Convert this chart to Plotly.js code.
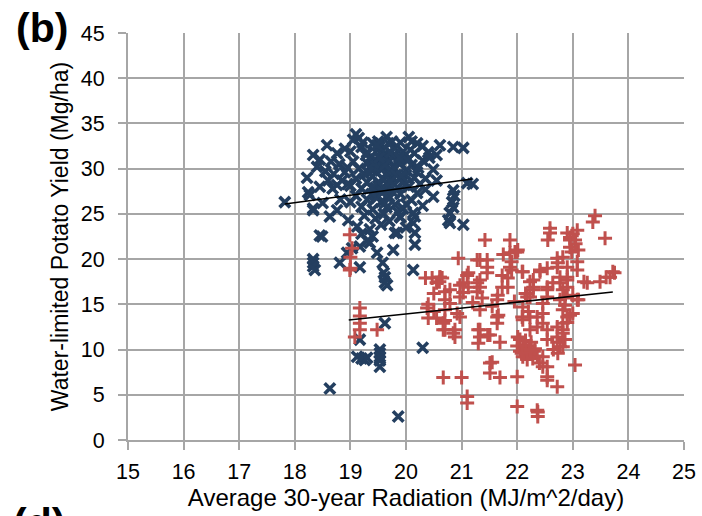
<!DOCTYPE html>
<html>
<head>
<meta charset="utf-8">
<script src="https://cdn.plot.ly/plotly-3.0.1.min.js"></script>
<style>html,body{margin:0;padding:0;background:#fff;}#chart{width:702px;height:516px;}</style>
</head>
<body>
<div id="chart"></div>
<script>
// Blue series (x marks): radiation (MJ/m^2/day) and yield (Mg/ha)
const blueX = [
19.1,19.15,19.05,19.65,19.75,19.9,20.05,20.1,20.2,19.4,19.5,20.3,
18.58,18.76,18.33,18.9,19.0,19.2,19.3,19.5,19.6,19.8,19.95,20.15,20.4,20.61,20.55,20.85,21.03,18.45,18.65,
18.22,18.4,18.55,18.8,18.9,19.05,19.15,19.3,19.4,19.45,19.55,19.65,19.7,19.8,19.9,20.0,20.1,20.2,20.3,20.49,19.35,19.6,19.75,20.05,
18.24,18.45,18.76,18.6,18.95,19.1,19.2,19.3,19.4,19.5,19.55,19.6,19.7,19.75,19.85,19.95,20.05,20.15,20.25,20.35,20.55,21.1,21.2,20.0,19.45,
17.82,18.33,18.27,18.5,18.76,19.0,19.1,19.2,19.3,19.4,19.45,19.55,19.65,19.7,19.8,19.9,19.95,20.1,20.2,20.3,20.49,20.83,20.85,20.87,20.85,18.33,
18.63,18.96,19.12,19.25,19.35,19.45,19.55,19.6,19.7,19.84,19.9,20.0,20.16,20.16,20.76,20.79,21.03,19.2,19.4,19.89,20.13,20.13,20.79,20.79,19.8,19.77,
18.49,18.45,18.33,18.33,18.33,18.36,18.81,18.94,19.17,19.35,19.48,19.58,19.17,19.62,19.66,19.62,20.16,20.13,19.6,19.03,19.3,
19.62,19.17,19.12,19.26,19.2,19.3,19.53,19.53,19.53,19.53,19.53,18.63,19.86,20.3,
19.25,19.35,19.55,19.65,19.85,19.5,19.7,19.6,19.45,19.8,19.9,19.55,19.65,19.75,19.38,19.48,19.58,19.68,19.52,19.72,
19.42,19.62,19.82,20.02,19.32,19.52,19.72,19.92,19.28,19.48,19.68,19.88,20.08,19.38,19.58,19.78,19.98,18.7,18.85,18.95,18.68,18.82,19.0,19.22,20.22,20.35,20.42,20.0,19.85,19.62
];
const blueY = [
33.8,33.4,33.2,33.5,33.0,32.9,33.5,33.0,32.8,32.8,33.0,32.5,
32.6,31.7,31.5,32.2,31.9,32.4,31.8,32.1,31.6,32.3,31.9,31.7,31.8,32.6,31.5,32.4,32.3,31.0,30.8,
29.0,30.2,29.7,30.5,29.6,30.8,30.0,30.6,29.8,31.0,30.3,29.5,30.9,30.0,30.6,29.8,30.4,29.6,30.9,29.9,31.2,31.0,31.3,31.1,
27.4,28.0,28.2,28.7,28.3,28.9,27.8,28.5,29.2,28.1,27.6,28.8,28.2,29.1,27.9,28.6,28.0,29.0,28.3,27.7,28.7,28.4,28.3,29.3,27.9,
26.3,25.6,27.1,26.2,25.4,26.3,27.0,25.8,26.6,25.5,27.1,26.3,25.7,26.9,26.0,27.2,25.6,26.5,27.3,25.9,26.9,26.3,25.7,27.0,27.6,25.4,
24.7,24.3,23.6,24.8,23.3,24.5,23.8,25.0,24.2,22.9,24.6,23.5,24.7,22.9,24.3,25.1,23.8,22.8,22.5,24.7,24.0,25.1,24.0,25.1,22.9,21.0,
22.5,22.6,20.0,19.6,19.2,18.8,19.6,20.7,21.4,21.8,20.7,19.6,19.1,18.0,17.1,17.4,21.6,18.8,18.5,21.2,22.0,
12.9,11.1,9.2,8.85,9.0,9.1,10.0,9.6,9.2,8.8,8.1,5.7,2.6,10.2,
29.4,30.2,29.9,31.4,30.8,28.5,29.7,30.5,30.1,31.6,28.9,31.9,28.4,29.8,27.2,26.8,28.9,27.5,32.4,31.8,
30.6,30.4,29.3,30.9,29.6,31.2,28.6,29.2,31.5,32.6,32.8,31.2,32.1,27.9,27.4,27.3,28.2,29.4,28.7,30.1,27.8,26.6,28.1,32.9,30.1,28.9,31.2,26.1,25.2,26.2
];
// Red series (+ marks)
const redX = [
18.99,19.03,19.0,19.0,18.99,19.17,19.17,19.17,19.17,19.08,19.48,
20.38,20.4,20.47,20.61,20.55,20.65,20.7,20.7,20.7,20.7,20.7,20.88,20.88,20.94,21.1,21.03,21.03,20.92,21.28,21.28,21.28,21.42,21.46,21.46,21.46,21.37,21.33,21.65,21.64,21.64,21.47,21.69,21.3,21.33,21.51,21.51,21.69,20.67,21.0,21.1,21.1,21.87,21.96,22.01,21.75,21.87,21.83,22.09,21.83,22.1,22.09,
22.05,22.1,22.15,22.2,22.1,22.25,22.3,22.05,22.18,22.36,22.12,22.22,22.28,22.0,22.32,22.15,22.24,22.08,
22.0,22.0,22.37,22.37,22.36,22.23,22.29,22.29,22.41,22.23,22.36,22.36,22.46,22.46,22.54,22.54,22.46,22.46,22.54,22.54,22.72,22.65,22.72,22.72,22.82,22.86,22.77,22.73,22.77,22.77,22.9,22.9,22.9,22.9,22.95,22.95,23.04,23.1,22.82,23.08,23.08,22.86,22.82,22.86,22.82,22.73,23.04,23.26,23.49,23.58,23.36,23.4,23.67,23.72,23.08,22.59,22.55,22.59,
21.33,21.87,22.0,21.9,21.9,22.1,22.41,22.72,22.72,22.54,20.61,21.12,21.12,20.97,20.97,20.79,20.79,21.33,21.33,21.73,21.73,21.64,22.23,22.29,22.18,22.54,22.64,22.82,22.9,22.95,23.08,
20.55,20.67,20.67,20.85,20.97,21.33,21.3,21.51,21.66,21.55,22.01,22.1,22.23,22.46,22.54,22.54,22.72,22.77,22.82,22.82,22.9,22.95,22.54,22.4,
23.2,23.6,23.0,23.1,23.0,22.9,23.0,23.05,22.98,23.75,20.5,20.4,20.35,20.6,20.5,21.2,21.55,22.2,22.15,21.95
];
const redY = [
22.7,21.2,20.2,19.0,18.8,14.6,13.7,12.9,12.2,11.4,12.2,
14.6,13.5,17.9,18.0,17.4,17.9,16.4,15.5,14.4,13.2,12.2,11.4,12.2,20.1,18.2,16.3,17.4,14.0,16.4,17.4,19.9,22.1,18.5,19.1,19.9,15.7,14.4,16.0,12.9,13.6,11.6,10.8,12.2,11.4,8.5,7.4,6.9,6.9,6.9,4.8,4.1,22.1,20.8,21.0,20.5,19.1,17.9,18.6,16.9,14.7,13.6,
11.1,10.5,10.0,9.5,9.2,10.8,9.8,9.8,8.9,9.3,10.2,10.4,9.0,10.4,10.1,11.0,9.9,9.6,
7.0,3.7,2.6,3.1,3.3,15.8,16.9,17.7,18.8,12.2,12.5,13.6,14.0,15.1,15.8,16.9,8.1,9.2,7.0,8.1,5.9,10.0,11.4,12.5,14.4,14.9,15.5,19.6,17.4,18.0,16.9,18.0,19.1,22.9,21.3,22.4,22.1,21.0,20.2,19.7,18.8,15.7,12.2,11.1,10.3,9.6,8.3,17.4,17.5,22.3,24.1,24.8,18.0,18.6,15.5,22.9,22.1,23.4,
19.9,20.7,20.8,18.8,19.7,18.6,18.6,19.1,20.1,19.0,18.0,16.9,18.5,15.8,17.1,15.1,16.6,16.9,17.7,16.9,18.2,15.5,17.5,16.6,15.8,16.6,17.4,16.6,17.7,22.1,23.2,
13.5,12.2,12.9,11.8,13.6,12.2,10.7,11.6,13.8,8.6,11.4,13.3,13.6,12.9,11.1,12.2,10.8,10.3,11.8,12.9,13.6,13.8,6.6,8.5,
17.5,18.0,16.0,15.5,14.0,13.0,22.8,21.7,20.8,18.5,14.2,15.0,17.9,17.5,16.2,15.2,14.8,14.2,16.2,15.3
];
// Linear trend lines (end points)
const trendBlueX = [17.82, 21.19];
const trendBlueY = [26.1, 28.86];
const trendRedX = [18.97, 23.72];
const trendRedY = [13.27, 16.36];

const xTicks = [15,16,17,18,19,20,21,22,23,24,25];
const yTicks = [0,5,10,15,20,25,30,35,40,45];

const blueColor = '#243F60';
const redColor = '#C0504D';
const gridColor = '#a6a6a6';
const fontFam = 'Liberation Sans, Arial, sans-serif';

const traces = [
  {x: blueX, y: blueY, type: 'scatter', mode: 'markers',
   marker: {symbol: 'x-thin', size: 10.5, line: {width: 3.6, color: blueColor}, color: blueColor},
   showlegend: false, hoverinfo: 'x+y'},
  {x: redX, y: redY, type: 'scatter', mode: 'markers',
   marker: {symbol: 'cross-thin', size: 10, line: {width: 3, color: redColor}, color: redColor},
   showlegend: false, hoverinfo: 'x+y'},
  {x: trendBlueX, y: trendBlueY, type: 'scatter', mode: 'lines',
   line: {color: '#000', width: 1.5}, showlegend: false},
  {x: trendRedX, y: trendRedY, type: 'scatter', mode: 'lines',
   line: {color: '#000', width: 1.5}, showlegend: false}
];

const layout = {
  width: 702, height: 516,
  margin: {l: 128, r: 18, t: 33, b: 76, pad: 0},
  paper_bgcolor: '#fff', plot_bgcolor: '#fff',
  font: {family: fontFam, color: '#000', size: 21},
  xaxis: {
    range: [15, 25], tickvals: xTicks, ticktext: xTicks.map(String),
    showgrid: true, gridcolor: gridColor, gridwidth: 2,
    zeroline: false, showline: true, linecolor: gridColor, linewidth: 2,
    ticks: 'outside', ticklen: 8, tickwidth: 2, tickcolor: gridColor,
    tickfont: {size: 21.5, family: fontFam}, ticklabelstandoff: 3,
    title: {text: 'Average 30-year Radiation (MJ/m^2/day)', font: {size: 24, family: fontFam}, standoff: 4}
  },
  yaxis: {
    range: [0, 45], tickvals: yTicks, ticktext: yTicks.map(String),
    showgrid: true, gridcolor: gridColor, gridwidth: 2,
    zeroline: false, showline: true, linecolor: gridColor, linewidth: 2,
    ticks: 'outside', ticklen: 8, tickwidth: 2, tickcolor: gridColor,
    tickfont: {size: 21.5, family: fontFam}, ticklabelstandoff: 9,
    title: {text: 'Water-limited Potato Yield (Mg/ha)', font: {size: 23, family: fontFam}, standoff: 6}
  },
  annotations: [
    {text: '<b>(b)</b>', xref: 'paper', yref: 'paper', x: -0.155, y: 1.012,
     xanchor: 'center', yanchor: 'middle', showarrow: false, font: {size: 41, family: fontFam}},
    {text: '<b>(d)</b>', xref: 'paper', yref: 'paper', x: -0.16, y: -0.205,
     xanchor: 'center', yanchor: 'middle', showarrow: false, font: {size: 41, family: fontFam}}
  ]
};

Plotly.newPlot('chart', traces, layout, {displayModeBar: false, staticPlot: true});
</script>
</body>
</html>
